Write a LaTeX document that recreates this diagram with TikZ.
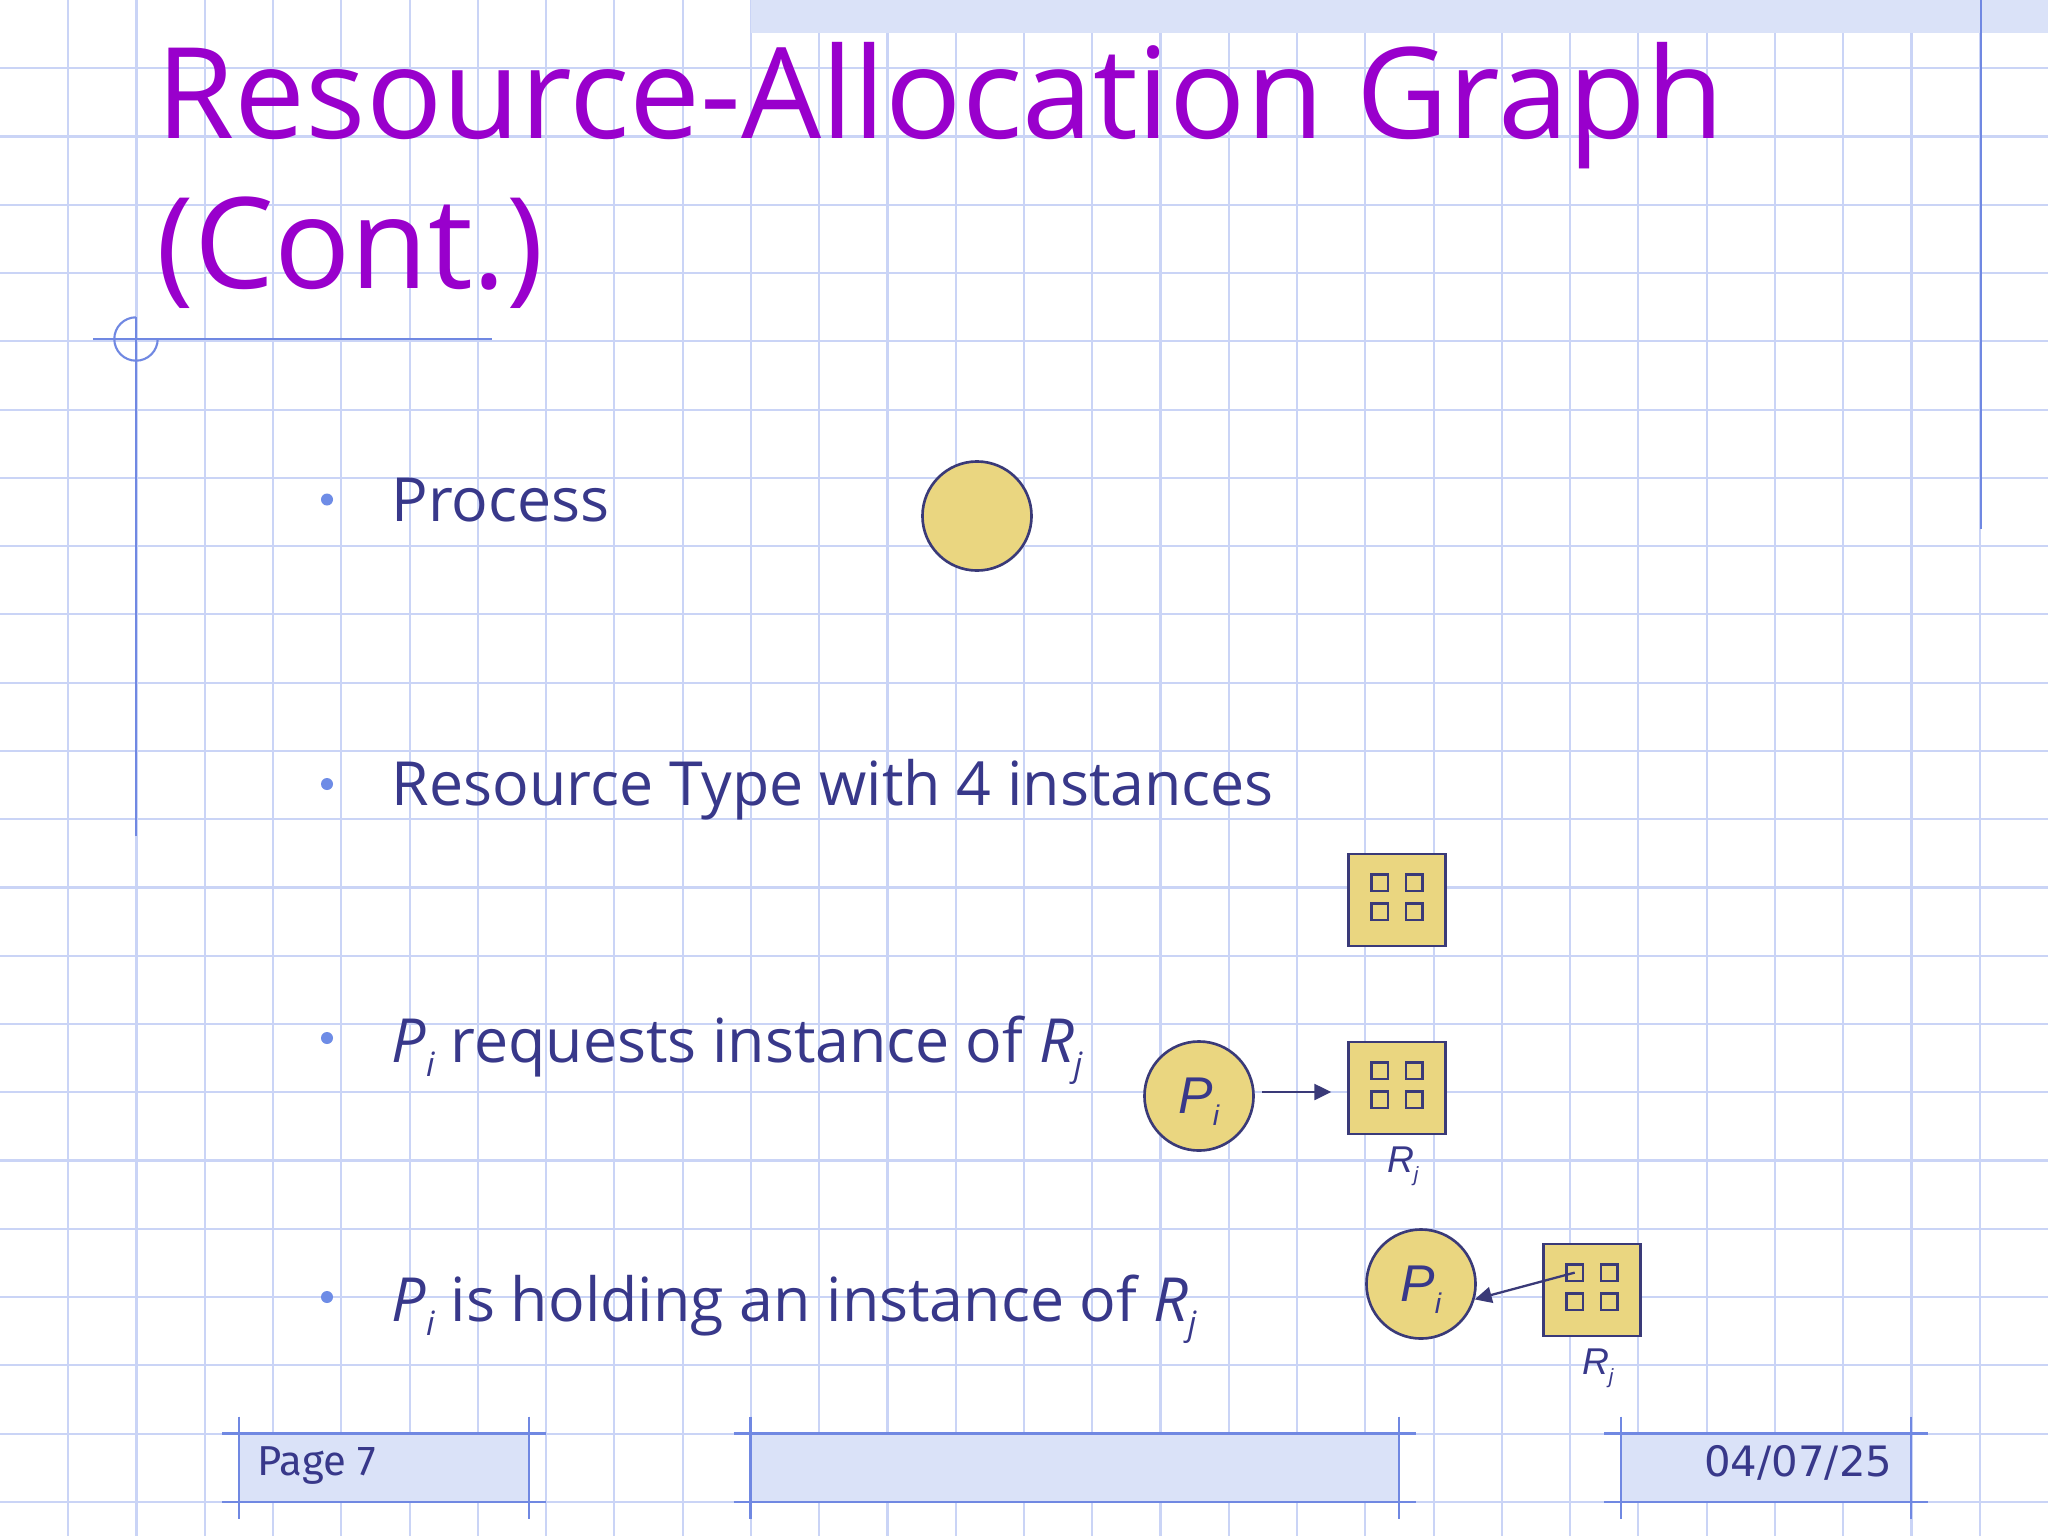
\documentclass[tikz,border=0pt]{standalone}
\usepackage{graphicx}
\usepackage{fontspec}
\setmainfont{Open Sans}
\newfontfamily\labelfont{Liberation Sans}
\newfontfamily\datefont{DejaVu Sans}
\newfontfamily\pagefont{Fira Sans}
\usetikzlibrary{arrows.meta,positioning}

\definecolor{gridblue}{RGB}{202,212,246}
\definecolor{rulerblue}{RGB}{112,136,226}
\definecolor{titlepurple}{RGB}{153,0,204}
\definecolor{inkblue}{RGB}{56,56,138}
\definecolor{nodefill}{RGB}{234,214,128}
\definecolor{nodeline}{RGB}{58,58,120}
\definecolor{bandfill}{RGB}{218,226,248}
\definecolor{bulletblue}{RGB}{110,140,230}

\newcommand\lowsub[1]{\raisebox{-0.23em}{\scalebox{0.55}{#1}}}

\begin{document}
\begin{tikzpicture}[x=0.01cm,y=-0.01cm]
  % Define styles for the sheet, the texts and the graph
  \tikzset{
    gridline/.style={draw=gridblue, line width=0.6pt},
    ruler/.style={draw=rulerblue, line width=0.6pt},
    band/.style={fill=bandfill},
    title text/.style={anchor=base west, inner sep=0pt, text=titlepurple, font=\fontsize{36}{42}\selectfont},
    bullet text/.style={anchor=base west, inner sep=0pt, text=inkblue, font=\fontsize{17.3}{20}\selectfont},
    bullet dot/.style={circle, fill=bulletblue, inner sep=0pt, minimum size=0.12cm},
    process node/.style={circle, draw=nodeline, fill=nodefill, line width=0.75pt, minimum size=1.09cm, inner sep=0pt, text=inkblue, text depth=0pt, font=\labelfont\fontsize{14.7}{16}\selectfont},
    resource node/.style={rectangle, draw=nodeline, fill=nodefill, line width=0.8pt, minimum width=0.965cm, minimum height=0.92cm, inner sep=0pt},
    slot node/.style={rectangle, draw=nodeline, line width=0.75pt, minimum size=0.165cm, inner sep=0pt},
    resource label/.style={inner sep=0pt, text=inkblue, font=\labelfont\fontsize{10.6}{12}\selectfont},
    edge arrow/.style={draw=nodeline, line width=0.65pt, -{Triangle[length=0.17cm,width=0.16cm]}},
    footer text/.style={inner sep=0pt, text=inkblue}
  }
  \useasboundingbox (0,0) rectangle (2048,1536);

  % Squared paper
  \fill[white] (0,0) rectangle (2048,1536);
  \foreach \k in {1,...,29} \draw[gridline] (\k*68.2667,0) -- (\k*68.2667,1536);
  \foreach \k in {1,...,22} \draw[gridline] (0,\k*68.2667) -- (2048,\k*68.2667);

  % Top band and rulers
  \fill[band] (751,0) rectangle (2048,33);
  \draw[ruler] (1981,0) -- (1981,529);
  \draw[ruler] (93,339) -- (492,339);
  \draw[ruler] (136,317.3) -- (136,836);
  \draw[ruler] (136,317.3) arc[start angle=-90, end angle=-360, radius=21.7];

  % Footer boxes
  \foreach \xa/\xb in {239/529, 750.5/1399, 1621/1911} {
    \fill[band] (\xa,1433.5) rectangle (\xb,1501.8);
    \draw[ruler] (\xa-17,1433.5) -- (\xb+17,1433.5);
    \draw[ruler] (\xa-17,1501.8) -- (\xb+17,1501.8);
    \draw[ruler] (\xa,1416.7) -- (\xa,1518.5);
    \draw[ruler] (\xb,1416.7) -- (\xb,1518.5);
  }
  \node[footer text, anchor=base west, font=\pagefont\fontsize{11.9}{14}\selectfont] (page) at (257,1475) {Page 7};
  \node[footer text, anchor=base east, font=\datefont\fontsize{11.9}{14}\selectfont] (date) at (1893,1476) {04/07/25};

  % Title
  \node[title text] (title) at (156,138.3) {Resource-Allocation Graph};
  \node[title text] (cont) at (156,288.3) {(Cont.)};

  % Bullets
  \foreach \y/\name in {499.5/b1, 784/b2, 1038/b3, 1297/b4}
    \node[bullet dot] (\name) at (327,\y) {};
  \node[bullet text] (t1) at (391,521.7) {Process};
  \node[bullet text] (t2) at (391,805) {Resource Type with 4 instances};
  \node[bullet text] (t3) at (391,1062.7) {\textit{P}\lowsub{\textit{i}} requests instance of \textit{R}\lowsub{\textit{j}}};
  \node[bullet text] (t4) at (391,1321) {\textit{P}\lowsub{\textit{i}} is holding an instance of \textit{R}\lowsub{\textit{j}}};

  % Process and resource type
  \node[process node] (proc) at (977,516) {};
  \node[resource node] (res) at (1397,900) {};

  % Request edge
  \node[process node] (p1) at (1199,1096) {\textit{P}\lowsub{\textit{i}}};
  \node[resource node] (r1) at (1397,1088) {};
  \node[resource label, below=0.11cm of r1, xshift=0.06cm] (l1) {\textit{R}\lowsub{\textit{j}}};

  % Assignment edge
  \node[process node] (p2) at (1421,1284) {\textit{P}\lowsub{\textit{i}}};
  \node[resource node] (r2) at (1592,1290) {};
  \node[resource label, below=0.11cm of r2, xshift=0.06cm] (l2) {\textit{R}\lowsub{\textit{j}}};

  % Instances
  \foreach \res in {res, r1, r2}
    \foreach \dx/\col in {-17.3/a, 17.3/b}
      \foreach \dy/\row in {-17.4/1, 11.7/2}
        \node[slot node] (\res\col\row) at ([shift={(\dx,\dy)}]\res) {};

  % Edges
  \draw[edge arrow, shorten <=0.075cm, shorten >=0.16cm] ([yshift=0.04cm]p1.east) -- ([yshift=0.04cm]p1.east -| r1.west);
  \draw[edge arrow] (r2a1.center) -- (p2.-16);
\end{tikzpicture}
\end{document}
